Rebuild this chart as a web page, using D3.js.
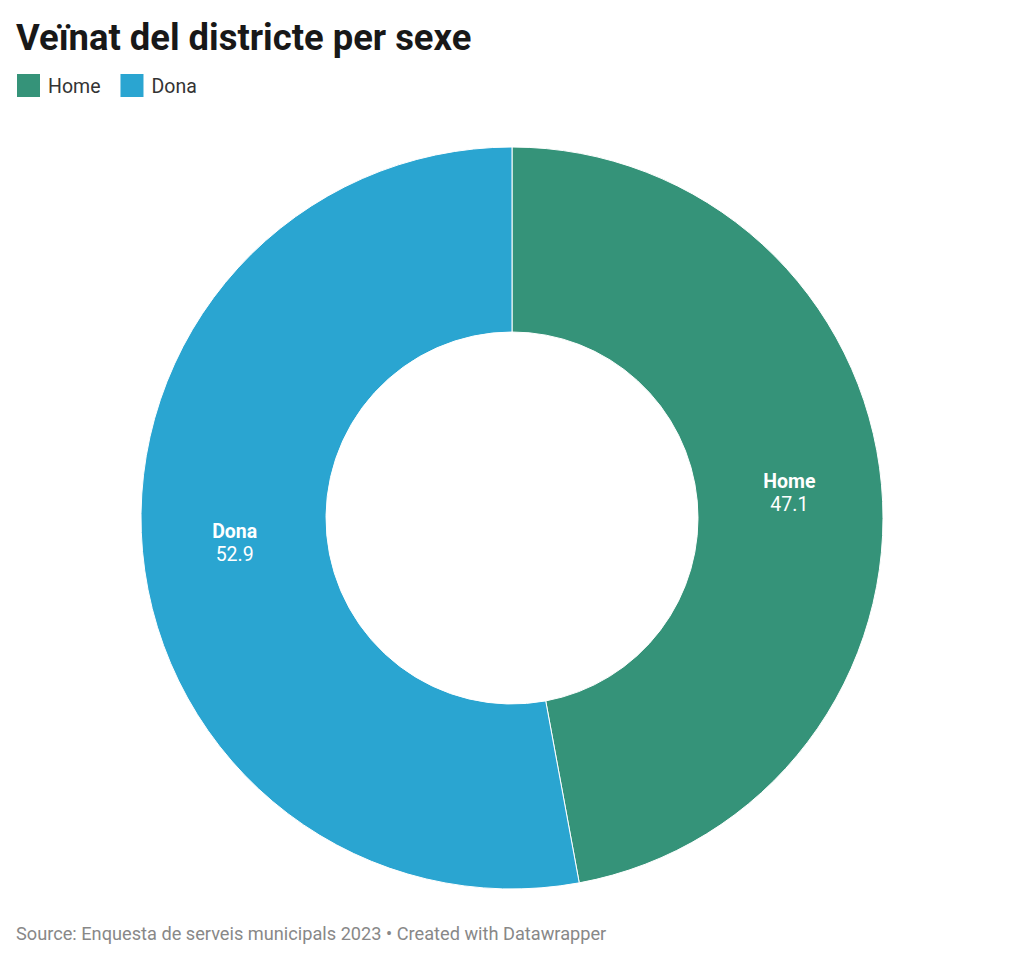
<!DOCTYPE html>
<html>
<head>
<meta charset="utf-8">
<script src="https://cdn.jsdelivr.net/npm/d3@7"></script>
<style>
  html, body { margin: 0; padding: 0; background: #fff; }
  body { width: 1024px; height: 961px; overflow: hidden; font-family: Roboto, "Noto Sans", sans-serif; }
</style>
</head>
<body>
<svg id="chart" width="1024" height="961"></svg>
<script>
const title = "Veïnat del districte per sexe";
const categories = ["Home", "Dona"];
const values = [47.1, 52.9];
const colors = ["#359379", "#2aa5d1"];
const footer = "Source: Enquesta de serveis municipals 2023 • Created with Datawrapper";

const svg = d3.select("#chart");

svg.append("text")
  .attr("x", 16).attr("y", 50)
  .attr("font-family", "Roboto")
  .attr("font-weight", 700)
  .attr("font-size", 36.4)
  .attr("fill", "#181818")
  .text(title);

const color = d3.scaleOrdinal().domain(categories).range(colors);

const legend = svg.append("g");
let lx = 17;
categories.forEach(c => {
  const g = legend.append("g").attr("transform", `translate(${lx},74)`);
  g.append("rect").attr("width", 23).attr("height", 23).attr("fill", color(c));
  const t = g.append("text").attr("x", 31).attr("y", 18.5)
    .attr("font-size", 19.5).attr("fill", "#333").text(c);
  lx += 31 + t.node().getComputedTextLength() + 20;
});

const cx = 512, cy = 518, rOuter = 371, rInner = 186;
const pie = d3.pie().sort(null).value(d => d.value);
const data = pie(categories.map((c, i) => ({ name: c, value: values[i] })));
const arc = d3.arc().innerRadius(rInner).outerRadius(rOuter);

const g = svg.append("g").attr("transform", `translate(${cx},${cy})`);
g.selectAll("path").data(data).enter().append("path")
  .attr("d", arc)
  .attr("fill", d => color(d.data.name))
  .attr("stroke", "#fff")
  .attr("stroke-width", 1);

const labels = g.selectAll("g.lab").data(data).enter().append("g")
  .attr("class", "lab")
  .attr("transform", d => `translate(${arc.centroid(d)})`);
labels.append("text")
  .attr("text-anchor", "middle").attr("y", -5)
  .attr("font-size", 19.5).attr("font-weight", 700).attr("fill", "#fff")
  .text(d => d.data.name);
labels.append("text")
  .attr("text-anchor", "middle").attr("y", 18)
  .attr("font-size", 19.5).attr("fill", "#fff")
  .text(d => d3.format(".1f")(d.data.value));

svg.append("text")
  .attr("x", 16).attr("y", 940)
  .attr("font-size", 18.2).attr("fill", "#888")
  .text(footer);
</script>
</body>
</html>
